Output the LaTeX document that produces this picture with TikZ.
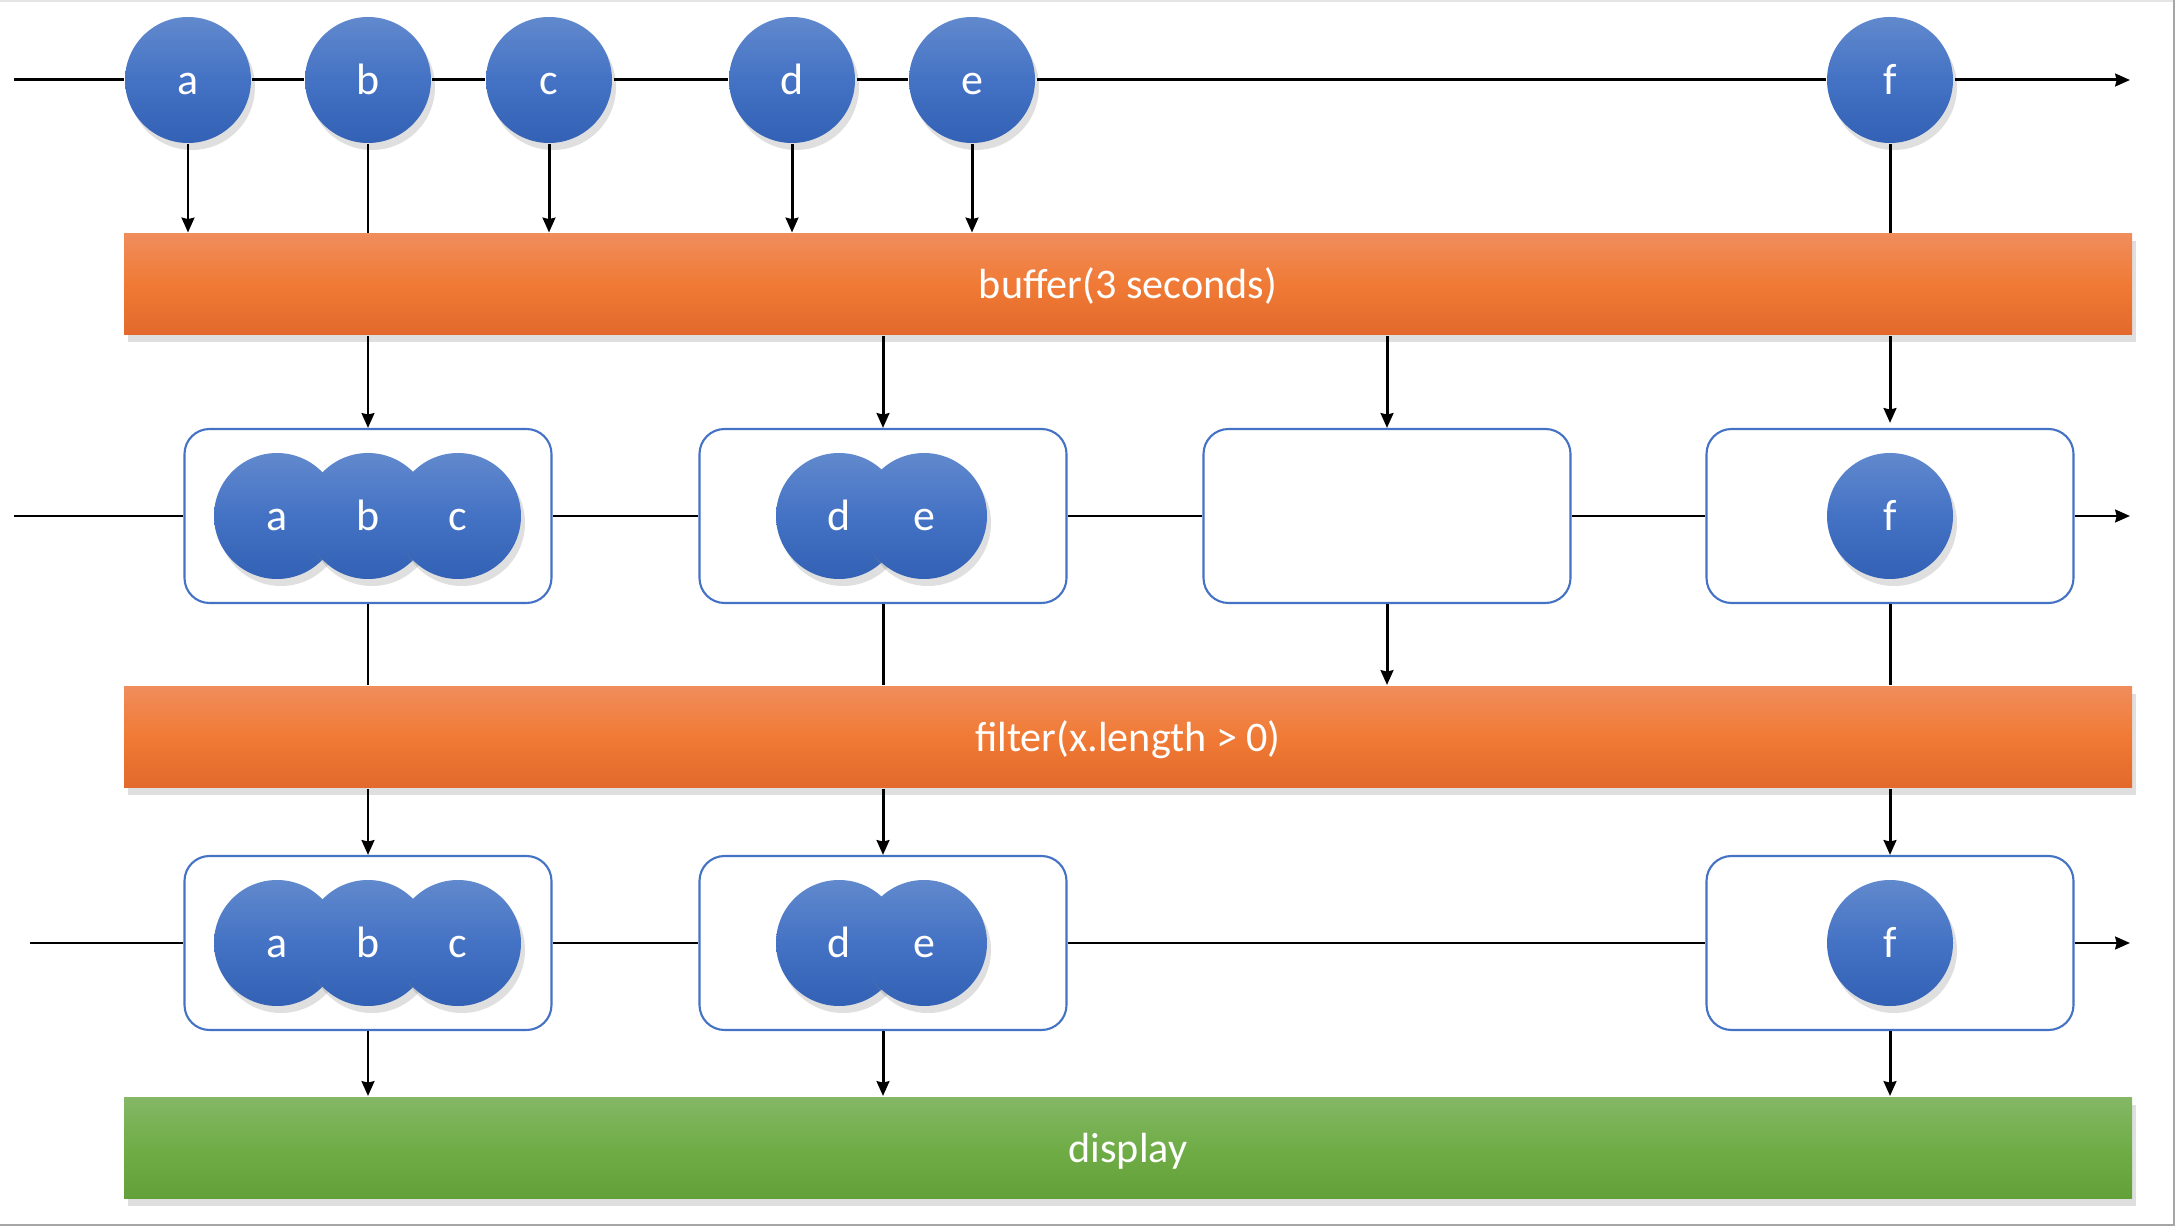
\documentclass[tikz,border=0pt]{standalone}
\usepackage{fontspec}
\setmainfont{Carlito}
\usetikzlibrary{shadows, arrows.meta}
\definecolor{blueT}{HTML}{6189CD}
\definecolor{blueM}{HTML}{4472C4}
\definecolor{blueB}{HTML}{3261B5}
\definecolor{boxblue}{HTML}{4472C4}
\definecolor{orangeT}{HTML}{F08D5C}
\definecolor{orangeM}{HTML}{F07A35}
\definecolor{orangeB}{HTML}{E2692B}
\definecolor{greenT}{HTML}{84B766}
\definecolor{greenM}{HTML}{70AD47}
\definecolor{greenB}{HTML}{64A03A}

\begin{document}
\begin{tikzpicture}[
		marble/.style={circle, minimum size=1.26cm, inner sep=0pt, text height=8.5pt, text depth=0pt, top color=blueT, bottom color=blueB, middle color=blueM, text=white, font=\fontsize{12.5}{14}\selectfont, drop shadow={shadow xshift=0.04cm, shadow yshift=-0.07cm, opacity=0.25}},
		window/.style={draw=boxblue, line width=0.6pt, fill=white, rectangle, rounded corners=0.25cm, minimum width=3.67cm, minimum height=1.74cm},
		opbar/.style={rectangle, minimum width=20.08cm, minimum height=1.01cm, text height=8pt, text depth=0pt, top color=orangeT, bottom color=orangeB, middle color=orangeM, text=white, font=\fontsize{12}{14}\selectfont, drop shadow={shadow xshift=0.04cm, shadow yshift=-0.07cm, opacity=0.25}},
		sinkbar/.style={opbar, top color=greenT, bottom color=greenB, middle color=greenM},
		line width=0.85pt, >={Stealth[length=4.2pt, width=3.6pt, inset=0.4pt]}]
				\useasboundingbox (0,0) rectangle (21.76,12.26);
				\draw[gray!20, line width=0.5pt] (0,12.25) -- (21.74,12.25);
				\draw[gray!70, line width=0.6pt] (21.74,12.26) -- (21.74,0.01) -- (0,0.01);
				% source stream
				\node[marble] (a)at(1.88, 11.46) {a};
				\node[marble] (b)at(3.68, 11.46) {b};
				\node[marble] (c)at(5.49, 11.46) {c};
				\node[marble] (d)at(7.92, 11.46) {d};
				\node[marble] (e)at(9.72, 11.46) {e};
				\node[marble] (f)at(18.90, 11.46) {f};
				\coordinate (in1)at(0.14, 11.46);
				\coordinate (out1)at(21.30, 11.46);
				\node[opbar] (buffer)at(11.28, 9.415) {buffer(3 seconds)};
				% buffered stream
				\node[window] (b1)at(3.68, 7.10) {};
				\node[window] (b2)at(8.83, 7.10) {};
				\node[window] (b3)at(13.87, 7.10) {};
				\node[window] (b4)at(18.90, 7.10) {};
				\node[marble] (m2a)at(2.77, 7.10) {a};
				\node[marble] (m2b)at(3.68, 7.10) {b};
				\node[marble] (m2c)at(4.58, 7.10) {c};
				\node[marble] (m2d)at(8.39, 7.10) {d};
				\node[marble] (m2e)at(9.24, 7.10) {e};
				\node[marble] (m2f)at(18.90, 7.10) {f};
				\coordinate (in2)at(0.14, 7.10);
				\coordinate (out2)at(21.30, 7.10);
				\node[opbar] (filter)at(11.28, 4.89) {filter(x.length > 0)};
				% filtered stream
				\node[window] (c1)at(3.68, 2.83) {};
				\node[window] (c2)at(8.83, 2.83) {};
				\node[window] (c4)at(18.90, 2.83) {};
				\node[marble] (m3a)at(2.77, 2.83) {a};
				\node[marble] (m3b)at(3.68, 2.83) {b};
				\node[marble] (m3c)at(4.58, 2.83) {c};
				\node[marble] (m3d)at(8.39, 2.83) {d};
				\node[marble] (m3e)at(9.24, 2.83) {e};
				\node[marble] (m3f)at(18.90, 2.83) {f};
				\coordinate (in3)at(0.30, 2.83);
				\coordinate (out3)at(21.30, 2.83);
				\node[sinkbar] (display)at(11.28, 0.78) {display};
				% time lines
				\draw[->] (in1) -- (a) -- (b) -- (c) -- (d) -- (e) -- (f) -- (out1);
				\draw[->] (in2) -- (b1) -- (b2) -- (b3) -- (b4) -- (out2);
				\draw[->] (in3) -- (c1) -- (c2) -- (c4) -- (out3);
				% into buffer
				\draw[->] (a) -- (a |- buffer.north);
				\draw (b) -- (b |- buffer.north);
				\draw[->] (c) -- (c |- buffer.north);
				\draw[->] (d) -- (d |- buffer.north);
				\draw[->] (e) -- (e |- buffer.north);
				\draw (f) -- (f |- buffer.north);
				% out of buffer
				\draw[->] (buffer.south -| b1) -- (b1);
				\draw[->] (buffer.south -| b2) -- (b2);
				\draw[->] (buffer.south -| b3) -- (b3);
				\draw[->] (buffer.south -| b4) -- ([yshift=0.05cm]b4.north);
				% into filter
				\draw (b1) -- (b1 |- filter.north);
				\draw (b2) -- (b2 |- filter.north);
				\draw[->] (b3) -- (b3 |- filter.north);
				\draw (b4) -- (b4 |- filter.north);
				% out of filter
				\draw[->] (filter.south -| c1) -- (c1);
				\draw[->] (filter.south -| c2) -- (c2);
				\draw[->] (filter.south -| c4) -- (c4);
				% into display
				\draw[->] (c1) -- (c1 |- display.north);
				\draw[->] (c2) -- (c2 |- display.north);
				\draw[->] (c4) -- (c4 |- display.north);
			\end{tikzpicture}
\end{document}
